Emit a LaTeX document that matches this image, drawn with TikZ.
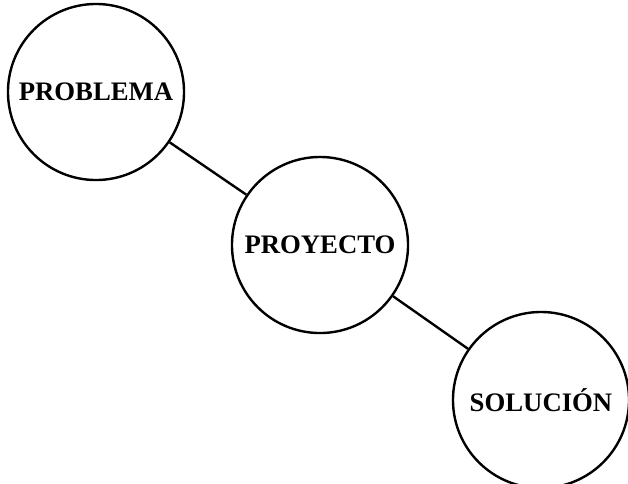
\documentclass[tikz,border=0pt]{standalone}
\usepackage{fontspec}
\setmainfont{Liberation Serif}
\begin{document}
\begin{tikzpicture}[
  x=0.025cm, y=-0.025cm,
  bubble/.style={draw, circle, line width=1.7pt, minimum size=4.4cm, inner sep=0pt,
    font=\fontsize{19}{23}\selectfont\bfseries, fill=white},
  link/.style={draw, line width=1.7pt},
]
\clip (0,0) rectangle (628,483);

% ---------------- the three stages ----------------
\node[bubble] (prob) at ( 96, 92) {PROBLEMA};
\node[bubble] (proy) at (320,245) {PROYECTO};
\node[bubble] (sol)  at (541,400) {SOLUCIÓN};

% ---------------- joined in a row ----------------
\draw[link] (prob) -- (proy);
\draw[link] (proy) -- (sol);

\end{tikzpicture}
\end{document}
